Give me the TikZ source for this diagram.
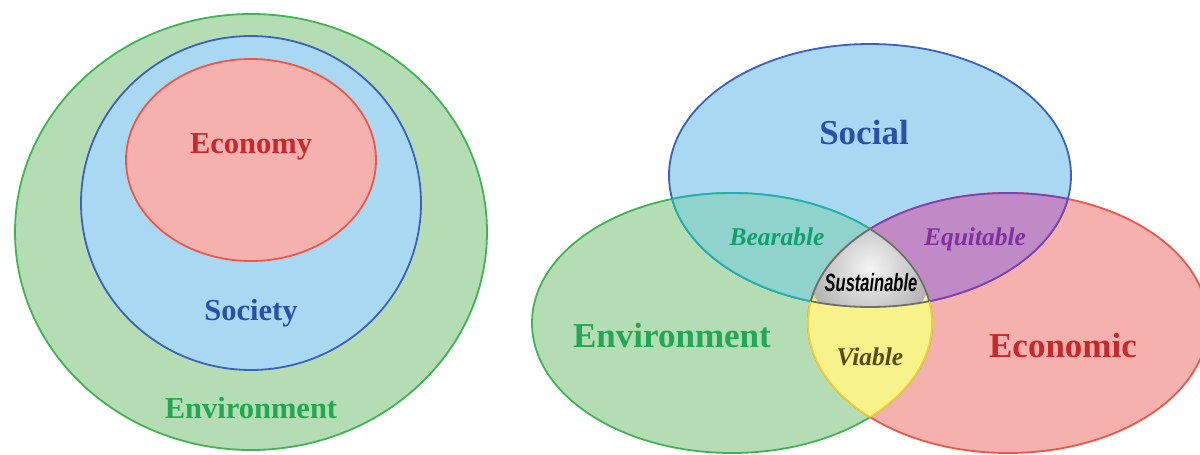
\documentclass[tikz,border=0pt]{standalone}
\usepackage{fontspec}
\setmainfont{Liberation Serif}
\newfontfamily\susfont{Liberation Sans}
\definecolor{envfill}{HTML}{B5DDB3}
\definecolor{envline}{HTML}{40B455}
\definecolor{socfill}{HTML}{A8D8F2}
\definecolor{socline}{HTML}{3A60C0}
\definecolor{ecofill}{HTML}{F5B1AD}
\definecolor{ecoline}{HTML}{F05545}
\definecolor{bearfill}{HTML}{90D3CC}
\definecolor{bearline}{HTML}{20B0B0}
\definecolor{equifill}{HTML}{C08AC6}
\definecolor{equiline}{HTML}{8040B0}
\definecolor{viafill}{HTML}{F8F28A}
\definecolor{vialine}{HTML}{F0D030}
\definecolor{susline}{HTML}{6E6E6E}
\definecolor{ecotext}{HTML}{C8282C}
\definecolor{soctext}{HTML}{2A50AA}
\definecolor{envtext}{HTML}{20A855}
\definecolor{beartext}{HTML}{10A070}
\definecolor{equitext}{HTML}{8030A0}
\definecolor{viatext}{HTML}{5A4A10}
\begin{document}
\begin{tikzpicture}[x=1pt,y=-1pt,
  edge/.style={line width=1.8pt},
  smalllbl/.style={font=\bfseries\fontsize{30.5}{34}\selectfont, inner sep=0pt, anchor=base},
  biglbl/.style={font=\bfseries\fontsize{35}{40}\selectfont, inner sep=0pt, anchor=base},
  itlbl/.style={font=\bfseries\itshape\fontsize{25.5}{30}\selectfont, inner sep=0pt, anchor=base}]
\useasboundingbox (0,0) rectangle (1200,455);
\fill[white] (0,0) rectangle (1200,455);
\clip (0,0) rectangle (1200,455);

% ---------- left: nested ----------
\draw[edge, draw=envline, fill=envfill] (251,232) ellipse [x radius=236pt, y radius=218pt];
\draw[edge, draw=socline, fill=socfill] (251,203) ellipse [x radius=170pt, y radius=167pt];
\draw[edge, draw=ecoline, fill=ecofill] (251,160) ellipse [x radius=125pt, y radius=101pt];
\node[smalllbl, text=ecotext] (economy) at (251,153) {Economy};
\node[smalllbl, text=soctext] (society) at (251,320) {Society};
\node[smalllbl, text=envtext] (envl) at (251,418) {Environment};

% ---------- right: Venn ----------
\def\Env{(732,323) ellipse [x radius=200pt, y radius=130pt]}
\def\Eco{(1008,323) ellipse [x radius=200pt, y radius=130pt]}
\def\Soc{(870,175.5) ellipse [x radius=201pt, y radius=131.5pt]}

\fill[envfill] \Env;
\fill[ecofill] \Eco;
\fill[socfill] \Soc;
\draw[edge, envline] \Env;
\draw[edge, ecoline] \Eco;
\draw[edge, socline] \Soc;

% Bearable (social & environment)
\begin{scope}\clip \Env; \fill[bearfill] \Soc; \draw[edge, bearline] \Soc; \end{scope}
\begin{scope}\clip \Soc; \draw[edge, bearline] \Env; \end{scope}
% Equitable (social & economic)
\begin{scope}\clip \Eco; \fill[equifill] \Soc; \draw[edge, equiline] \Soc; \end{scope}
\begin{scope}\clip \Soc; \draw[edge, equiline] \Eco; \end{scope}
% Viable (environment & economic)
\begin{scope}\clip \Env; \fill[viafill] \Eco; \draw[edge, vialine] \Eco; \end{scope}
\begin{scope}\clip \Eco; \draw[edge, vialine] \Env; \end{scope}
% Sustainable (all three)
\begin{scope}\clip \Env; \clip \Eco; \clip \Soc;
  \shade[inner color=gray!8, outer color=gray!60] (870,268) circle [radius=62pt];
\end{scope}
\begin{scope}\clip \Env; \clip \Eco; \draw[edge, susline] \Soc; \end{scope}
\begin{scope}\clip \Soc; \clip \Env; \draw[edge, susline] \Eco; \end{scope}
\begin{scope}\clip \Soc; \clip \Eco; \draw[edge, susline] \Env; \end{scope}

\node[biglbl, text=soctext] (social) at (864,144) {Social};
\node[biglbl, text=envtext] (envr) at (672,347) {Environment};
\node[biglbl, text=ecotext] (economic) at (1063,357) {Economic};
\node[itlbl, text=beartext] (bearable) at (777,245) {Bearable};
\node[itlbl, text=equitext] (equitable) at (975,245) {Equitable};
\node[itlbl, text=viatext] (viable) at (870,365) {Viable};
\node[font=\susfont\bfseries\itshape\fontsize{25}{28}\selectfont, inner sep=0pt, anchor=base, text=black]
  (sustainable) at (871,291) {\scalebox{0.66}[1]{Sustainable}};
\end{tikzpicture}
\end{document}
